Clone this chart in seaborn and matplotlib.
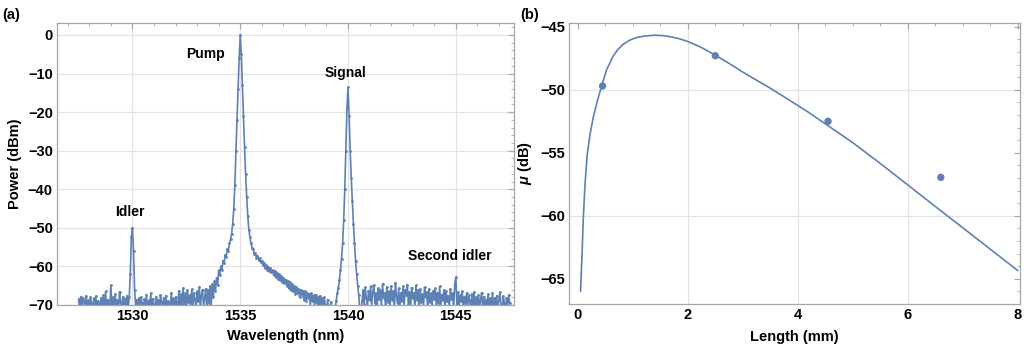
import numpy as np
import pandas as pd
import matplotlib
matplotlib.use('Agg')
import matplotlib.pyplot as plt
from matplotlib.ticker import MultipleLocator
import seaborn as sns

sns.set_style("white")
plt.rcParams['font.family'] = ['Liberation Sans', 'DejaVu Sans']
plt.rcParams['font.weight'] = 'bold'
plt.rcParams['text.color'] = 'black'
plt.rcParams['axes.labelcolor'] = 'black'
plt.rcParams['mathtext.fontset'] = 'custom'
plt.rcParams['mathtext.it'] = 'Liberation Sans:italic:bold'
plt.rcParams['mathtext.rm'] = 'Liberation Sans:bold'

BLUE = '#5E81B5'
FRAME = '#A6A6A6'
GRID = '#E3E3E3'

# ---- panel (a): spectrum, 0.05 nm steps starting at 1527.5 nm ----
wl_start = 1527.5
wl_step = 0.05

# 1527.50 - 1532.45 nm
power_1527 = [
    -68.5, -71.0, -67.8, -70.5, -68.2, -69.0, -72.0, -67.6, -70.0, -68.8,
    -71.0, -67.9, -69.5, -72.0, -68.3, -70.2, -67.7, -71.5, -68.9, -69.8,
    -71.0, -68.1, -70.4, -67.5, -72.0, -66.5, -70.8, -68.6, -69.9, -71.2,
    -64.9, -70.5, -68.0, -72.0, -67.2, -70.3, -68.7, -71.8, -66.6, -69.4,
    -70.6, -67.9, -72.0, -68.4, -70.1, -67.6, -71.3, -68.0, -62.0, -52.5,
    -50.0, -56.0, -66.0, -70.5, -68.6, -70.9, -68.2, -72.0, -67.9, -69.6,
    -71.4, -68.5, -70.2, -67.3, -72.0, -68.8, -70.6, -66.9, -71.2, -68.4,
    -69.9, -72.0, -67.8, -70.3, -68.6, -71.7, -67.4, -69.2, -72.0, -68.1,
    -70.8, -67.6, -71.1, -68.9, -69.7, -72.0, -66.8, -70.4, -68.3, -71.6,
    -67.9, -69.5, -70.7, -66.3, -71.5, -67.2, -69.8, -65.6, -70.9, -67.0,
]
# 1532.50 - 1537.45 nm
power_1532 = [
    -72.0, -66.1, -69.3, -67.5, -71.0, -65.9, -70.2, -66.8, -68.4, -72.0,
    -66.4, -69.0, -65.3, -71.2, -67.3, -66.0, -70.5, -68.2, -65.8, -71.5,
    -66.2, -69.4, -65.0, -70.8, -64.6, -68.0, -63.9, -66.5, -63.0, -64.8,
    -61.0, -62.3, -60.0, -60.9, -58.5, -59.2, -57.0, -57.6, -55.5, -55.9,
    -54.0, -53.0, -51.5, -49.0, -45.0, -39.0, -30.0, -22.0, -14.0, -6.0,
    0.0, -5.0, -13.0, -21.0, -29.0, -36.0, -42.0, -47.0, -50.5, -52.5,
    -54.0, -55.2, -55.6, -56.8, -56.5, -57.7, -57.2, -58.3, -57.9, -58.8,
    -58.5, -59.6, -59.0, -60.3, -59.7, -60.8, -60.1, -61.2, -60.4, -61.5,
    -61.0, -62.3, -61.3, -62.8, -61.6, -63.2, -62.0, -63.6, -62.4, -64.0,
    -62.9, -64.3, -63.4, -65.0, -63.8, -65.6, -64.1, -66.0, -64.6, -66.4,
]
# 1537.50 - 1542.45 nm
power_1537 = [
    -65.0, -67.1, -65.3, -66.9, -65.8, -68.0, -66.0, -67.5, -66.3, -68.6,
    -66.5, -69.0, -66.8, -68.3, -67.1, -70.2, -66.9, -68.9, -67.5, -70.6,
    -67.3, -69.4, -67.9, -71.0, -67.6, -70.1, -68.2, -71.5, -68.0, -70.4,
    -72.0, -68.6, -71.2, -72.0, -69.3, -72.0, -70.5, -72.0, -71.0, -68.9,
    -67.0, -65.5, -63.5, -61.0, -58.0, -54.0, -48.0, -40.0, -30.0, -19.0,
    -13.5, -21.0, -30.0, -37.0, -43.0, -49.0, -54.0, -58.5, -62.0, -65.0,
    -67.5, -71.5, -72.0, -68.9, -66.0, -69.7, -65.4, -68.2, -70.6, -66.3,
    -68.8, -65.1, -70.2, -66.7, -64.8, -69.4, -67.0, -71.3, -65.6, -68.5,
    -66.2, -70.0, -64.5, -68.1, -66.9, -71.6, -65.3, -69.2, -66.5, -70.4,
    -65.0, -68.7, -66.4, -70.9, -64.2, -67.8, -69.6, -65.7, -71.2, -66.8,
]
# 1542.50 - 1547.50 nm
power_1542 = [
    -68.9, -65.2, -70.3, -66.0, -67.4, -64.7, -69.9, -66.6, -71.0, -65.5,
    -68.3, -66.9, -70.7, -64.9, -68.6, -66.1, -71.4, -65.8, -69.1, -67.2,
    -70.5, -65.4, -68.0, -66.6, -71.8, -65.9, -69.3, -67.0, -70.1, -66.3,
    -68.4, -65.7, -71.1, -66.8, -69.6, -65.2, -70.4, -67.3, -68.7, -66.1,
    -71.5, -66.5, -69.0, -67.6, -70.8, -65.9, -68.5, -66.9, -71.2, -64.6,
    -62.8, -69.8, -66.7, -71.0, -67.4, -68.9, -66.4, -72.0, -67.8, -69.5,
    -66.9, -70.6, -67.5, -68.8, -72.0, -67.1, -69.9, -66.6, -71.3, -68.0,
    -70.2, -67.3, -71.8, -68.4, -66.8, -70.9, -67.9, -72.0, -68.6, -69.7,
    -67.2, -71.5, -68.3, -70.0, -66.9, -72.0, -68.1, -70.7, -67.6, -71.2,
    -68.7, -66.7, -70.3, -72.0, -67.7, -69.4, -71.6, -68.2, -70.5, -67.4,
    -69.6,
]

peak_labels = ['Idler', 'Pump', 'Signal', 'Second idler']
peak_label_x = [1529.9, 1533.4, 1539.9, 1544.7]
peak_label_y = [-46.0, -4.9, -9.8, -57.3]

# ---- panel (b): mu vs length ----
length_curve = [0.05, 0.08, 0.10, 0.13, 0.17, 0.22, 0.28, 0.36, 0.43, 0.52,
                0.64, 0.72, 0.82, 0.95, 1.07, 1.20, 1.40, 1.55, 1.67, 1.83,
                1.98, 2.10, 2.25, 2.48, 2.75, 3.00, 3.49, 3.82, 4.20, 4.55,
                5.00, 5.50, 6.00, 6.60, 7.00, 7.50, 8.00]
mu_curve = [-66.0, -62.7, -60.2, -57.6, -55.2, -53.6, -52.2, -50.8, -49.75, -48.45,
            -47.35, -46.85, -46.4, -46.05, -45.85, -45.74, -45.67, -45.7, -45.78, -45.93,
            -46.14, -46.35, -46.65, -47.2, -47.9, -48.6, -49.85, -50.75, -51.8, -52.85,
            -54.2, -55.85, -57.55, -59.6, -60.95, -62.65, -64.35]
length_meas = [0.45, 2.5, 4.55, 6.6]
mu_meas = [-49.7, -47.3, -52.5, -56.95]

power = power_1527 + power_1532 + power_1537 + power_1542
spec = pd.DataFrame({'wl': wl_start + wl_step * np.arange(len(power)),
                     'p': power})


def style_frame(ax, xmajor, xminor, ymajor, yminor):
    for s in ax.spines.values():
        s.set_color(FRAME)
        s.set_linewidth(0.9)
    ax.xaxis.set_major_locator(MultipleLocator(xmajor))
    ax.xaxis.set_minor_locator(MultipleLocator(xminor))
    ax.yaxis.set_major_locator(MultipleLocator(ymajor))
    ax.yaxis.set_minor_locator(MultipleLocator(yminor))
    ax.tick_params(which='both', direction='in', top=True, right=True,
                   color=FRAME, labelcolor='black', labelsize=10.5, pad=3)
    ax.tick_params(which='major', length=4)
    ax.tick_params(which='minor', length=2)
    for lab in ax.get_xticklabels() + ax.get_yticklabels():
        lab.set_fontweight('bold')


fig = plt.figure(figsize=(10.24, 3.49), dpi=100)

# (a)
ax1 = fig.add_axes([57 / 1024, 44 / 349, 457 / 1024, 282 / 349])
sns.lineplot(data=spec, x='wl', y='p', ax=ax1, color=BLUE, linewidth=1.2,
             marker='o', markersize=2.0, markeredgewidth=0, sort=False)
ax1.set_xlim(1526.5, 1547.7)
ax1.set_ylim(-70, 3.1)
ax1.grid(True, color=GRID, linewidth=0.9)
ax1.set_axisbelow(True)
style_frame(ax1, 5, 1, 10, 2)
ax1.set_xlabel('Wavelength (nm)', fontsize=10.5, fontweight='bold', labelpad=4)
ax1.set_ylabel('Power (dBm)', fontsize=10.5, fontweight='bold', labelpad=4)
for lab, x, y in zip(peak_labels, peak_label_x, peak_label_y):
    ax1.text(x, y, lab, ha='center', va='center', fontsize=10, fontweight='bold')
fig.text(2 / 1024, 1 - 15 / 349, '(a)', fontsize=10.5, fontweight='bold',
         va='center', ha='left')

# (b)
ax2 = fig.add_axes([569 / 1024, 45 / 349, 451 / 1024, 281 / 349])
sns.lineplot(x=length_curve, y=mu_curve, ax=ax2, color=BLUE, linewidth=1.2, sort=False)
sns.scatterplot(x=length_meas, y=mu_meas, ax=ax2, color=BLUE, s=28, edgecolor='none')
ax2.set_xlim(-0.16, 8.04)
ax2.set_ylim(-67.0, -44.7)
for yv in [-50, -60]:
    ax2.axhline(yv, color=GRID, linewidth=0.9, zorder=0)
for xv in [2, 4, 6]:
    ax2.axvline(xv, color=GRID, linewidth=0.9, zorder=0)
style_frame(ax2, 2, 0.5, 5, 1)
ax2.set_xlabel('Length (mm)', fontsize=10.5, fontweight='bold', labelpad=6)
ax2.set_ylabel(r'$\mu$ (dB)', fontsize=10.5, fontweight='bold', labelpad=4)
fig.text(520 / 1024, 1 - 15 / 349, '(b)', fontsize=10.5, fontweight='bold',
         va='center', ha='left')

fig.savefig('out.png', dpi=100)
